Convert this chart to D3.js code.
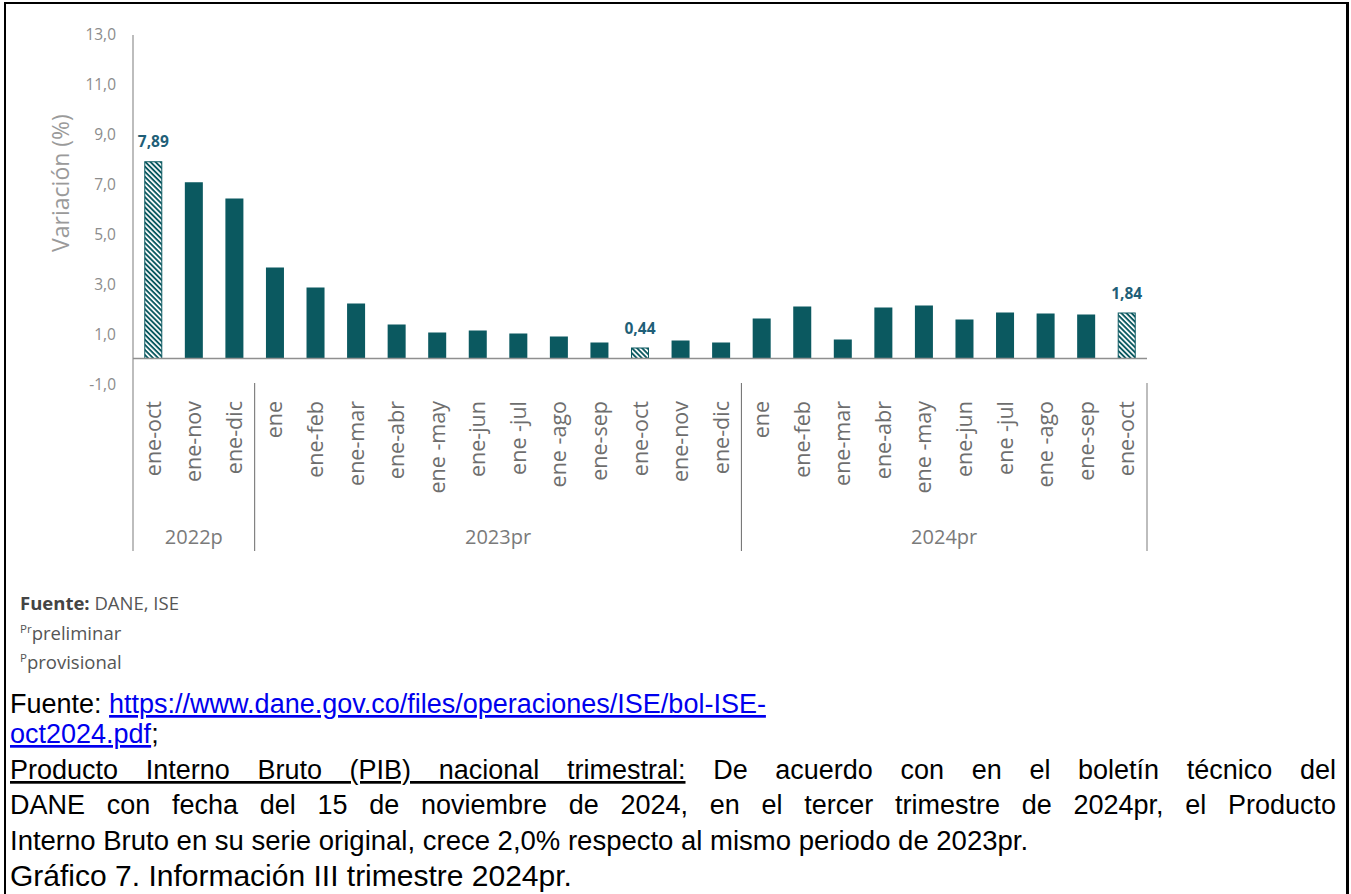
<!DOCTYPE html>
<html>
<head>
<meta charset="utf-8">
<script src="https://cdn.jsdelivr.net/npm/d3@7"></script>
<style>
  body { margin: 0; background: #fff; }
  svg { display: block; }
</style>
</head>
<body>
<script>
// ---- DATA ----
const periods = ["ene-oct", "ene-nov", "ene-dic",
  "ene", "ene-feb", "ene-mar", "ene-abr", "ene -may", "ene-jun", "ene -jul", "ene -ago", "ene-sep", "ene-oct", "ene-nov", "ene-dic",
  "ene", "ene-feb", "ene-mar", "ene-abr", "ene -may", "ene-jun", "ene -jul", "ene -ago", "ene-sep", "ene-oct"];
const years = ["2022p", "2022p", "2022p",
  "2023pr", "2023pr", "2023pr", "2023pr", "2023pr", "2023pr", "2023pr", "2023pr", "2023pr", "2023pr", "2023pr", "2023pr",
  "2024pr", "2024pr", "2024pr", "2024pr", "2024pr", "2024pr", "2024pr", "2024pr", "2024pr", "2024pr"];
const values = [7.89, 7.05, 6.40,
  3.64, 2.84, 2.20, 1.36, 1.04, 1.12, 1.00, 0.88, 0.64, 0.44, 0.72, 0.64,
  1.60, 2.08, 0.76, 2.04, 2.12, 1.56, 1.84, 1.80, 1.76, 1.84];
const highlighted = [0, 12, 24];   // hatched bars with a value label
const yTicks = [-1, 1, 3, 5, 7, 9, 11, 13];
const yTitle = "Variación (%)";

// ---- SETUP ----
const W = 1351, H = 894;
const barColor = "#0b5960";
const labelColor = "#1f5f78";
const chartFont = "'Open Sans', sans-serif";
const locale = d3.formatLocale({ decimal: ",", thousands: ".", grouping: [3], currency: ["$", ""], minus: "-" });
const fmt1 = locale.format(".1f");
const fmt2 = locale.format(".2f");

const svg = d3.select("body").append("svg")
  .attr("width", W)
  .attr("height", H);
svg.append("rect").attr("width", W).attr("height", H).attr("fill", "#fff");

const x = d3.scaleBand()
  .domain(d3.range(values.length))
  .range([133, 1147])
  .paddingInner(0.556)
  .paddingOuter(0.278);
const y = d3.scaleLinear().domain([-1, 13]).range([383.5, 33.5]);
const bw = x.bandwidth();

// hatch pattern
const defs = svg.append("defs");
const pat = defs.append("pattern")
  .attr("id", "hatch")
  .attr("patternUnits", "userSpaceOnUse")
  .attr("width", 3.6).attr("height", 3.6)
  .attr("patternTransform", "rotate(-45)");
pat.append("rect").attr("width", 3.6).attr("height", 3.6).attr("fill", barColor);
pat.append("rect").attr("width", 1.7).attr("height", 3.6).attr("fill", "#fff");

// ---- AXES ----
const axisY = svg.append("g")
  .attr("transform", "translate(133,1.5)")
  .call(d3.axisLeft(y).tickValues(yTicks).tickSize(0).tickPadding(17).tickFormat(fmt1));
axisY.select(".domain").remove();
axisY.selectAll("text")
  .attr("fill", "#8c8c8c")
  .style("font-family", chartFont)
  .style("font-size", "15.5px");

svg.append("text")
  .attr("transform", "translate(61,183) rotate(-90)")
  .attr("text-anchor", "middle")
  .attr("dy", "0.35em")
  .attr("fill", "#9a9a9a")
  .style("font-family", chartFont)
  .style("font-size", "23px")
  .text(yTitle);

// vertical frame lines of the axis
const bottomY = 551;
svg.append("line").attr("x1", 133).attr("x2", 133).attr("y1", 35).attr("y2", bottomY)
  .attr("stroke", "#bdbdbd").attr("stroke-width", 2);
svg.append("line").attr("x1", 1147).attr("x2", 1147).attr("y1", 383).attr("y2", bottomY)
  .attr("stroke", "#bdbdbd").attr("stroke-width", 2);

// year group separators
const groups = d3.groups(d3.range(values.length), i => years[i]);
groups.slice(1).forEach(([yr, idx]) => {
  const sx = x(idx[0]) - x.step() * x.paddingInner() / 2;
  svg.append("line").attr("x1", sx).attr("x2", sx).attr("y1", 383).attr("y2", bottomY)
    .attr("stroke", "#6a6a6a").attr("stroke-width", 1);
});
groups.forEach(([yr, idx]) => {
  const cx = (x(idx[0]) + x(idx[idx.length - 1]) + bw) / 2;
  svg.append("text")
    .attr("x", cx).attr("y", 544)
    .attr("text-anchor", "middle")
    .attr("fill", "#7a7a7a")
    .style("font-family", chartFont)
    .style("font-size", "20px")
    .text(yr);
});

// ---- BARS ----
svg.selectAll("rect.bar")
  .data(values)
  .enter()
  .append("rect")
  .attr("class", "bar")
  .attr("x", (d, i) => highlighted.includes(i) ? x(i) + 0.5 : x(i))
  .attr("y", (d, i) => highlighted.includes(i) ? y(d) + 0.5 : y(d))
  .attr("width", (d, i) => highlighted.includes(i) ? bw - 1 : bw)
  .attr("height", (d, i) => highlighted.includes(i) ? y(0) - y(d) - 0.5 : y(0) - y(d))
  .attr("fill", (d, i) => highlighted.includes(i) ? "url(#hatch)" : barColor)
  .attr("stroke", (d, i) => highlighted.includes(i) ? barColor : "none")
  .attr("stroke-width", 1);

// baseline
svg.append("line").attr("x1", 133).attr("x2", 1147).attr("y1", y(0)).attr("y2", y(0))
  .attr("stroke", "#8f8f8f").attr("stroke-width", 1.5);

// value labels
svg.selectAll("text.val")
  .data(highlighted)
  .enter()
  .append("text")
  .attr("class", "val")
  .attr("x", i => x(i) + bw / 2)
  .attr("y", i => y(values[i]) - 14)
  .attr("text-anchor", "middle")
  .attr("fill", labelColor)
  .style("font-family", chartFont)
  .style("font-size", "15.5px")
  .style("font-weight", "bold")
  .text(i => fmt2(values[i]));

// category labels
svg.selectAll("text.cat")
  .data(periods)
  .enter()
  .append("text")
  .attr("class", "cat")
  .attr("transform", (d, i) => `translate(${x(i) + bw / 2},401) rotate(-90)`)
  .attr("text-anchor", "end")
  .attr("dy", "0.35em")
  .attr("fill", "#6e6e6e")
  .style("font-family", chartFont)
  .style("font-size", "21.5px")
  .text(d => d);

// ---- NOTES ----
const note = svg.append("g")
  .style("font-family", chartFont)
  .style("font-size", "18.5px")
  .attr("fill", "#555");
const n1 = note.append("text").attr("x", 20).attr("y", 610);
n1.append("tspan").style("font-weight", "bold").attr("fill", "#444").text("Fuente:");
n1.append("tspan").text(" DANE, ISE");
const n2 = note.append("text").attr("x", 20).attr("y", 640);
n2.append("tspan").style("font-size", "11.5px").attr("dy", -7).text("Pr");
n2.append("tspan").attr("dy", 7).text("preliminar");
const n3 = note.append("text").attr("x", 20).attr("y", 669);
n3.append("tspan").style("font-size", "11.5px").attr("dy", -7).text("P");
n3.append("tspan").attr("dy", 7).text("provisional");

// ---- BODY TEXT ----
const body = svg.append("g")
  .style("font-family", "'Liberation Sans', Arial, sans-serif")
  .style("font-size", "27px")
  .attr("fill", "#000");

const l1 = body.append("text").attr("x", 10).attr("y", 713);
l1.append("tspan").text("Fuente: ");
l1.append("tspan").attr("fill", "#0000ee").style("text-decoration", "underline")
  .text("https://www.dane.gov.co/files/operaciones/ISE/bol-ISE-");
const l2 = body.append("text").attr("x", 10).attr("y", 743);
l2.append("tspan").attr("fill", "#0000ee").style("text-decoration", "underline").text("oct2024.pdf");
l2.append("tspan").text(";");

const l3 = body.append("text").attr("x", 10).attr("y", 779);
l3.append("tspan").style("text-decoration", "underline").text("Producto Interno Bruto (PIB) nacional trimestral:");
l3.append("tspan").text(" De acuerdo con en el boletín técnico del");
const l4 = body.append("text").attr("x", 10).attr("y", 814)
  .text("DANE con fecha del 15 de noviembre de 2024, en el tercer trimestre de 2024pr, el Producto");
body.append("text").attr("x", 10).attr("y", 850)
  .style("font-size", "27.5px")
  .text("Interno Bruto en su serie original, crece 2,0% respecto al mismo periodo de 2023pr.");
body.append("text").attr("x", 10).attr("y", 886)
  .style("font-size", "30px")
  .text("Gráfico 7. Información III trimestre 2024pr.");

// spread words so the line reaches the right margin
function justify(sel, right) {
  const w = sel.node().getComputedTextLength();
  const gaps = (sel.text().match(/ /g) || []).length;
  sel.style("word-spacing", ((right - 10 - w) / gaps) + "px");
}
justify(l3, 1336);
justify(l4, 1336);

// ---- PAGE FRAME ----
svg.append("line").attr("x1", 5).attr("x2", 5).attr("y1", 2).attr("y2", H).attr("stroke", "#000").attr("stroke-width", 2);
svg.append("line").attr("x1", 4).attr("x2", 1349).attr("y1", 3).attr("y2", 3).attr("stroke", "#000").attr("stroke-width", 2);
svg.append("line").attr("x1", 1347.5).attr("x2", 1347.5).attr("y1", 3).attr("y2", H).attr("stroke", "#000").attr("stroke-width", 3);
</script>
</body>
</html>
